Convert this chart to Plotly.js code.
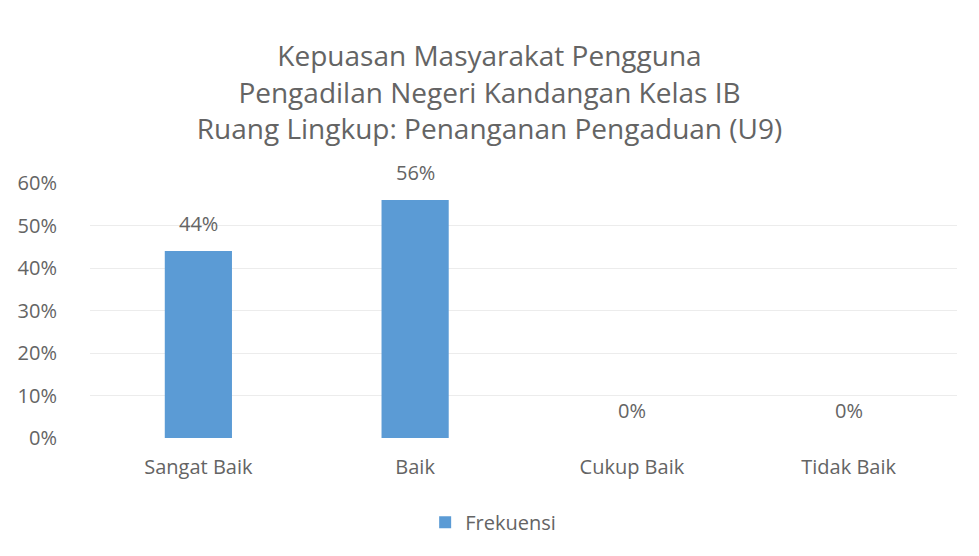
<!DOCTYPE html>
<html>
<head>
<meta charset="utf-8">
<script src="https://cdn.plot.ly/plotly-3.0.1.min.js"></script>
<style>html,body{margin:0;padding:0;background:#fff;}#chart{width:979px;height:556px;}</style>
</head>
<body>
<div id="chart"></div>
<script>
const categories = ["Sangat Baik", "Baik", "Cukup Baik", "Tidak Baik"];
const values = [0.44, 0.56, 0, 0];
const labels = ["44%", "56%", "0%", "0%"];
const seriesName = "Frekuensi";
const yTickVals = [0, 0.1, 0.2, 0.3, 0.4, 0.5, 0.6];
const yTickText = ["0%", "10%", "20%", "30%", "40%", "50%", "60%"];

const fontFam = "'Open Sans', sans-serif";
const gray = "#646464";

const trace = {
  type: "bar",
  x: categories,
  y: values,
  name: seriesName,
  marker: {color: "#5b9bd5"},
  width: 0.31,
  hoverinfo: "skip"
};

const annotations = categories.map((c, i) => ({
  x: c, y: values[i], xref: "x", yref: "y",
  text: labels[i], showarrow: false, yanchor: "bottom", yshift: 12,
  font: {family: fontFam, size: 20, color: gray}
}));

const layout = {
  width: 979, height: 556,
  margin: {l: 90, r: 22, t: 183, b: 118},
  paper_bgcolor: "#fff", plot_bgcolor: "#fff",
  title: {
    text: "Kepuasan Masyarakat Pengguna<br>Pengadilan Negeri Kandangan Kelas IB<br>Ruang Lingkup: Penanganan Pengaduan (U9)",
    font: {family: fontFam, size: 28, color: gray},
    x: 0.5, xanchor: "center", y: 0.881, yanchor: "middle"
  },
  xaxis: {
    tickfont: {family: fontFam, size: 20, color: gray},
    showline: false, ticks: "", showgrid: false, ticklabelstandoff: 15
  },
  yaxis: {
    range: [0, 0.6], tickvals: yTickVals, ticktext: yTickText,
    tickfont: {family: fontFam, size: 20, color: gray},
    showgrid: true, gridcolor: "#ececec", zeroline: false, ticks: "",
    showline: false, ticklabelstandoff: 32
  },
  showlegend: true,
  legend: {
    orientation: "h", x: 0.465, xanchor: "center", y: -0.33, yanchor: "middle",
    font: {family: fontFam, size: 20, color: gray}
  },
  annotations: annotations,
  bargap: 0.69
};

Plotly.newPlot("chart", [trace], layout, {displayModeBar: false, staticPlot: true});
</script>
</body>
</html>
